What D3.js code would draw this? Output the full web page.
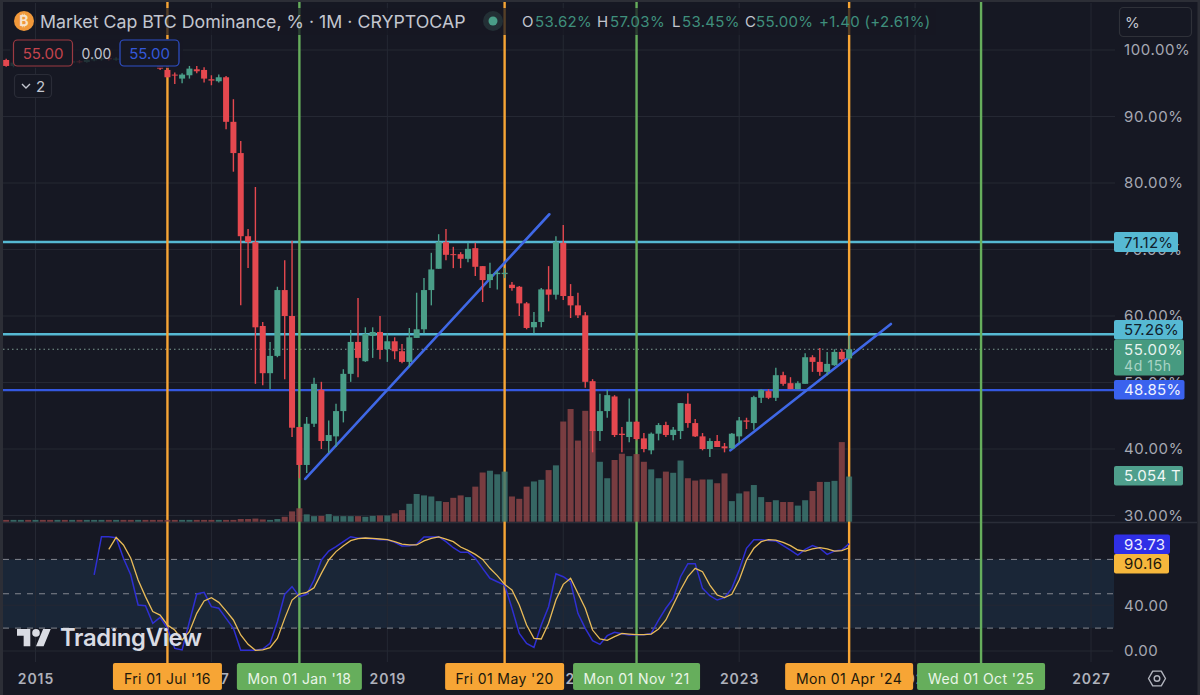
<!DOCTYPE html>
<html><head><meta charset="utf-8">
<script src="https://cdn.jsdelivr.net/npm/d3@7/dist/d3.min.js"></script>
<style>html,body{margin:0;padding:0;background:#161823;overflow:hidden}svg{display:block}text{font-family:Inter,"Noto Sans",sans-serif}</style>
</head><body><div id="c"></div>
<script>
// month offsets counted from Jan 2015; first candle is Sep 2014
const firstMonth = -4;
const opens = [98.5,97.6,98.1,98.4,98.2,98.5,98.3,98.2,98.4,98.1,98.3,98.2,98.5,98.6,98.8,98.6,98.7,98.5,98.3,98.4,98.1,97.8,
97.0,96.3,95.7,96.2,97.1,97.0,95.6,95.3,95.9,89.2,84.5,72.0,71.1,58.5,51.4,54.0,63.9,60.0,43.3,37.6,43.8,48.9,41.2,41.9,45.7,51.3,56.1,53.2,57.0,57.6,55.0,56.2,54.7,53.1,56.7,58.0,63.9,67.1,71.1,69.3,69.3,68.6,70.2,67.5,65.4,66.3,66.3,64.7,64.4,61.9,58.3,59.1,64.0,63.2,71.0,63.0,61.6,60.1,50.2,42.7,45.7,47.9,42.3,41.8,44.1,41.6,39.8,42.3,43.6,42.1,42.7,46.8,43.9,41.9,40.0,41.2,40.4,40.1,41.9,44.3,43.9,47.7,48.7,47.7,51.1,49.9,49.0,49.8,53.8,53.1,51.6,52.6,54.6,53.62];
const highs = [98.7,98.4,98.6,98.7,98.8,98.7,98.6,98.7,98.6,98.5,98.5,98.7,98.9,99.0,99.0,98.9,98.9,98.7,98.6,98.6,98.4,98.0,
97.6,96.6,96.5,97.6,97.6,97.4,96.2,96.3,96.1,92.6,86.3,73.1,79.4,59.1,56.1,64.4,68.4,71.3,43.3,44.8,50.7,50.1,44.3,46.8,52.0,57.9,62.7,58.3,58.3,60.0,57.4,56.8,55.8,58.2,63.5,65.7,69.5,72.3,73.1,70.4,69.6,71.0,71.0,67.5,68.0,66.8,67.2,65.1,64.5,62.1,60.6,64.2,67.5,72.0,73.7,64.8,63.5,60.6,50.5,48.3,48.9,48.1,43.3,47.6,44.2,42.4,42.5,43.9,44.1,43.3,46.9,48.4,44.5,42.4,41.6,42.1,40.9,42.4,44.8,44.7,48.0,49.0,49.0,52.2,51.6,50.8,50.2,54.4,54.1,55.2,54.6,55.0,55.0,57.03];
const lows = [97.5,97.4,98.0,98.0,98.1,98.1,98.0,98.0,97.9,98.0,98.0,98.1,98.3,98.4,98.4,98.4,98.3,98.1,98.1,97.9,97.6,97.0,
95.9,94.9,95.0,95.7,96.5,95.1,94.7,95.1,88.1,81.7,61.6,67.2,49.8,49.6,49.0,53.8,50.5,41.8,35.6,36.4,43.3,40.0,39.4,40.3,44.0,50.1,50.8,53.1,53.7,53.5,53.1,53.5,52.9,52.3,56.7,57.4,61.6,67.1,68.4,67.2,67.2,68.1,66.0,62.1,64.2,64.0,65.7,63.8,60.0,58.0,57.4,58.3,60.7,62.5,62.4,59.7,59.7,49.2,39.5,41.2,44.7,41.8,39.5,41.0,41.3,39.5,39.2,41.3,41.8,41.3,41.5,43.2,41.8,39.8,38.8,40.3,39.5,40.0,40.9,43.0,42.9,46.9,47.5,47.2,49.5,49.0,49.0,49.8,51.6,51.0,51.1,52.5,53.1,53.45];
const closes = [97.6,98.1,98.4,98.2,98.5,98.3,98.2,98.4,98.1,98.3,98.2,98.5,98.6,98.8,98.6,98.7,98.5,98.3,98.4,98.1,97.8,97.2,
95.9,96.2,96.3,97.2,96.8,95.7,95.4,95.9,89.2,84.5,72.0,71.1,58.3,51.4,54.0,63.9,60.0,43.2,37.6,43.8,49.8,41.2,42.1,45.7,51.3,56.1,53.7,57.3,57.6,54.9,56.2,54.7,53.1,56.8,58.0,63.9,67.0,71.1,69.2,69.2,68.6,70.1,67.4,65.4,66.3,66.5,66.5,64.2,61.9,58.2,59.1,64.0,63.2,71.1,63.0,61.6,60.1,50.1,42.7,45.7,48.1,42.1,42.1,44.1,41.5,40.0,42.3,43.6,42.1,42.9,46.9,43.9,41.9,40.0,41.2,40.3,40.1,42.3,44.3,44.1,47.8,48.9,47.7,51.1,49.8,49.0,49.9,53.8,53.1,51.6,52.8,54.6,53.5,55.0];
const volumes = [0.2,0.2,0.2,0.2,0.2,0.2,0.2,0.2,0.2,0.2,0.2,0.2,0.2,0.2,0.2,0.2,0.2,0.2,0.2,0.2,0.2,0.2,
0.2,0.2,0.2,0.2,0.2,0.2,0.2,0.2,0.2,0.2,0.3,0.3,0.35,0.25,0.2,0.3,0.55,1.15,1.5,0.82,0.62,0.65,0.85,0.62,0.62,0.62,0.62,0.55,0.65,0.7,0.7,0.93,1.3,2.0,3.1,2.94,2.82,2.3,2.2,2.67,2.94,2.75,3.92,5.5,5.7,5.3,5.6,2.82,2.56,3.92,4.5,4.68,5.77,6.3,11.2,12.6,9.07,12.4,10.3,6.7,4.86,6.9,7.6,7.33,7.56,6.7,5.85,4.86,5.6,5.47,6.84,4.86,4.6,4.72,4.72,4.3,5.4,2.3,3.16,3.39,4.1,2.75,2.2,2.4,2.2,2.2,1.8,2.4,3.43,4.45,4.45,4.57,8.9,5.05];
const kFirstMonth = 8;
const kValues = [66.4,99.8,99.8,99,81,66.4,40.2,39.6,24.2,29.4,19.8,2.3,0.9,25.6,49.8,51.2,38.7,37.3,28.5,19.8,0.6,0.6,0.6,1.7,6.7,25.6,49.5,56.2,47.5,49.5,62,79.5,87.3,91.1,95.5,99.8,98.4,98.4,97.8,97.2,97.2,94.9,91.7,92,93.2,99.6,99.6,99.8,95.5,90.2,86.2,86.2,81,72.2,63.5,60.5,57.6,37.3,15.4,6.7,3.2,22.7,38.7,67.5,64.9,60.5,32.9,19.8,9,5.8,13.4,16.3,15.1,14,14.3,14.3,15.4,27,37.3,46,64.9,76.3,76.3,54.7,48.3,44.5,46.6,54.7,70.7,89.7,97.2,97.2,96.6,96.1,92,88.2,83.8,88.8,92,89.7,84.4,87.3,88.2,93.73];
const dFirstMonth = 10;
const dValues = [88.8,99.3,92.6,81,62,47.5,34.4,31.4,22.7,18.3,9.6,16.9,32.9,43.7,46.6,42.5,35,27.1,14,5.8,0.6,0.9,2.9,11,28.5,44.5,49.8,51.2,55.3,67.8,79.5,86.8,92,96.4,98.1,98.7,98.4,97.8,97.2,95.5,93.4,92.6,92.6,96.1,98.4,99.6,97.8,95.5,90.8,87.9,84.4,80,72.2,65.8,58.2,53.3,40.2,22.7,11,10.5,24.2,44.5,58.2,63.5,50.4,37.3,18.3,10.5,9.3,12.5,15.4,14.8,14.3,14.3,14.8,19.2,27.1,40.2,53.3,64.9,72.2,69.3,57.6,48.9,46.6,49.5,62,79.5,89.7,95.5,97.2,96.9,94.9,92,88.2,87.3,89.1,90.2,89.1,87.3,87.6,90.16];
const yearTicks = [0,24,48,72,96,120,144];
const yearLabels = ["2015","2017","2019","2021","2023","2025","2027"];
const priceTicks = [100,90,80,70,60,50,40,30];
const stochTicks = [40,0];
const stochBands = [80,50,20];
const levelValues = [71.12,57.26,48.85];
const levelColors = ["#56b9d3","#56b9d3","#3458e0"];
const markMonths = [18,64,111,36,82,129];
const markLabels = ["Fri 01 Jul '16","Fri 01 May '20","Mon 01 Apr '24","Mon 01 Jan '18","Mon 01 Nov '21","Wed 01 Oct '25"];
const markWidths = [109,119,128,125,127,128];
const markColors = ["#f7a535","#f7a535","#f7a535","#66ae5c","#66ae5c","#66ae5c"];
const markText = ["#20180c","#20180c","#20180c","#eaf5e8","#eaf5e8","#eaf5e8"];
const trendMonths = [[36.8,70.1],[94.8,116.7]];
const trendValues = [[35.5,75.3],[39.8,58.8]];

const W=1200,H=695,bg="#161823",grid="#252833",up="#4a9e88",down="#e5484f",axisText="#a6a9b3";
const x=d3.scaleLinear().domain([0,144]).range([35.5,35.5+7.33*144]);
const y=d3.scaleLinear().domain([100,30]).range([50,515.5]);
const yVol=d3.scaleLinear().domain([0,5.054]).range([521.7,476.5]);
const yS=d3.scaleLinear().domain([0,100]).range([651,536.5]);
const months=opens.map((_,i)=>firstMonth+i);

const svg=d3.select("#c").append("svg").attr("width",W).attr("height",H);
svg.append("rect").attr("width",W).attr("height",H).attr("fill",bg);
// frame strips
svg.append("rect").attr("width",3).attr("height",H).attr("fill","#2c2e36");
svg.append("rect").attr("x",1197.5).attr("width",2.5).attr("height",H).attr("fill","#2c2e36");
svg.append("rect").attr("width",W).attr("height",2).attr("fill","#2c2e36");

// stoch band
svg.append("rect").attr("x",3).attr("width",1111).attr("y",yS(80)).attr("height",yS(20)-yS(80)).attr("fill","#1a2637");

// grid
const gridG=svg.append("g").attr("stroke",grid).attr("stroke-width",1);
gridG.selectAll(".v").data(yearTicks).join("line").attr("x1",d=>x(d)).attr("x2",d=>x(d)).attr("y1",3).attr("y2",662);
gridG.selectAll(".h").data(priceTicks).join("line").attr("x1",3).attr("x2",1115).attr("y1",d=>y(d)).attr("y2",d=>y(d));
gridG.selectAll(".s").data(stochTicks).join("line").attr("x1",3).attr("x2",1113).attr("y1",d=>yS(d)).attr("y2",d=>yS(d));
svg.append("line").attr("x1",3).attr("x2",1197).attr("y1",522.5).attr("y2",522.5).attr("stroke","#2a2d38").attr("stroke-width",1.5);
svg.selectAll(".band").data(stochBands).join("line").attr("x1",3).attr("x2",1114).attr("y1",d=>yS(d)).attr("y2",d=>yS(d)).attr("stroke","#83868f").attr("stroke-width",1).attr("stroke-dasharray","6 6");

// axes
function styleAxis(g){g.select(".domain").remove();g.selectAll("line").remove();g.selectAll("text").attr("fill",axisText).attr("font-size",15).attr("letter-spacing",0.6).attr("text-anchor","start");}
svg.append("g").attr("transform","translate(1124,0)").call(d3.axisRight(y).tickValues(priceTicks).tickFormat(d=>d.toFixed(2)+"%").tickSize(0).tickPadding(0)).call(styleAxis);
svg.append("g").attr("transform","translate(1124,0)").call(d3.axisRight(yS).tickValues(stochTicks).tickFormat(d=>d.toFixed(2)).tickSize(0).tickPadding(0)).call(styleAxis);
const yearAxis=svg.append("g").attr("transform","translate(0,674.5)").call(d3.axisBottom(x).tickValues(yearTicks).tickFormat((d,i)=>yearLabels[i]).tickSize(0).tickPadding(0));
yearAxis.select(".domain").remove();
yearAxis.selectAll("text").attr("fill","#aeb1bb").attr("font-size",14).attr("font-weight",600).attr("letter-spacing",1);

// last-price dotted line
svg.append("line").attr("x1",3).attr("x2",1115).attr("y1",y(closes[closes.length-1])).attr("y2",y(closes[closes.length-1])).attr("stroke","#7d9a92").attr("stroke-width",1).attr("stroke-dasharray","1.5 3");

// levels, vertical marks, trend lines (drawn below the series)
svg.selectAll(".lvl").data(levelValues).join("line").attr("x1",3).attr("x2",1115).attr("y1",d=>y(d)).attr("y2",d=>y(d)).attr("stroke",(d,i)=>levelColors[i]).attr("stroke-width",2.4);
svg.selectAll(".mk").data(markMonths).join("line").attr("x1",d=>x(d)).attr("x2",d=>x(d)).attr("y1",2).attr("y2",664).attr("stroke",(d,i)=>markColors[i]).attr("stroke-width",2.4);
svg.selectAll(".tr").data(trendMonths).join("line").attr("x1",d=>x(d[0])).attr("x2",d=>x(d[1])).attr("y1",(d,i)=>y(trendValues[i][0])).attr("y2",(d,i)=>y(trendValues[i][1])).attr("stroke","#3f68e6").attr("stroke-width",2.6).attr("stroke-linecap","round");

// volume
svg.selectAll(".vol").data(months).join("rect").attr("x",d=>x(d)-3).attr("width",6)
 .attr("y",(d,i)=>yVol(volumes[i])).attr("height",(d,i)=>yVol(0)-yVol(volumes[i]))
 .attr("fill",(d,i)=>closes[i]>=opens[i]?"#3c7670":"#8a4345").attr("opacity",0.85);

// candles
const isUp=i=>closes[i]>=opens[i];
svg.selectAll(".wick").data(months).join("line").attr("x1",d=>x(d)).attr("x2",d=>x(d))
 .attr("y1",(d,i)=>y(highs[i])).attr("y2",(d,i)=>y(lows[i])).attr("stroke",(d,i)=>isUp(i)?up:down).attr("stroke-width",1.4);
svg.selectAll(".body").data(months).join("rect").attr("x",d=>x(d)-3).attr("width",6)
 .attr("y",(d,i)=>y(Math.max(opens[i],closes[i])))
 .attr("height",(d,i)=>Math.max(1,Math.abs(y(opens[i])-y(closes[i])))).attr("fill",(d,i)=>isUp(i)?up:down);

// stoch lines
const ln=d3.line().x(d=>x(d[0])).y(d=>yS(d[1]));
svg.append("path").attr("d",ln(kValues.map((v,i)=>[kFirstMonth+i,v]))).attr("fill","none").attr("stroke","#2f2fd2").attr("stroke-width",1.5);
svg.append("path").attr("d",ln(dValues.map((v,i)=>[dFirstMonth+i,v]))).attr("fill","none").attr("stroke","#e9bb58").attr("stroke-width",1.3);

// watermark logo
const logo=svg.append("g").attr("transform","translate(17,625.3) scale(0.95)").attr("fill","#d9dbe3");
logo.append("path").attr("d","M14 22H7V11H0V4h14v18zM28 22h-8l7.5-18h8L28 22z");
logo.append("circle").attr("cx",20).attr("cy",8).attr("r",4);
svg.append("text").attr("x",60).attr("y",646).attr("font-size",23.8).attr("font-weight",600).attr("fill","#d9dbe3").attr("letter-spacing",-0.3).text("TradingView");

// date marks
const mg=svg.selectAll(".dm").data(markMonths).join("g");
mg.append("rect").attr("x",(d,i)=>x(d)-markWidths[i]/2).attr("y",663).attr("width",(d,i)=>markWidths[i]).attr("height",27).attr("rx",2).attr("fill",(d,i)=>markColors[i]);
mg.append("text").attr("x",d=>x(d)).attr("y",684).attr("text-anchor","middle").attr("font-size",14).attr("letter-spacing",0.4).attr("fill",(d,i)=>markText[i]).text((d,i)=>markLabels[i]);

// header overlays
svg.append("rect").attr("x",36).attr("y",8).attr("width",900).attr("height",27).attr("fill",bg).attr("opacity",0.72);
svg.append("rect").attr("x",10).attr("y",39).attr("width",173).attr("height",29).attr("fill",bg).attr("opacity",0.8);
svg.append("circle").attr("cx",24).attr("cy",21).attr("r",10).attr("fill","#f0983a");
svg.append("text").attr("x",24).attr("y",26).attr("text-anchor","middle").attr("font-size",14).attr("font-weight",700).attr("fill","#f6e3cc").attr("font-family","DejaVu Sans").text("₿");
svg.append("text").attr("x",40).attr("y",28).attr("font-size",17.75).attr("fill","#c3c6cf").text("Market Cap BTC Dominance, % · 1M · CRYPTOCAP");
svg.append("circle").attr("cx",493).attr("cy",21).attr("r",10).attr("fill","#232f35");
svg.append("circle").attr("cx",493).attr("cy",21).attr("r",4.5).attr("fill","#4a9e88");
const teal="#3f8f7c",lbl="#c3c6cf";
const ohlc=[["O",522,lbl],["53.62%",535,teal],["H",597,lbl],["57.03%",610,teal],["L",672,lbl],["53.45%",682,teal],["C",745,lbl],["55.00%",756,teal],["+1.40 (+2.61%)",819,teal]];
svg.selectAll(".oh").data(ohlc).join("text").attr("x",d=>d[1]).attr("y",27).attr("font-size",15).attr("letter-spacing",0.3).attr("fill",d=>d[2]).text(d=>d[0]);

function box(x0,y0,w,h,stroke,txt,col,fs){
 svg.append("rect").attr("x",x0).attr("y",y0).attr("width",w).attr("height",h).attr("rx",4).attr("fill",bg).attr("stroke",stroke).attr("stroke-width",1.2);
 if(txt) svg.append("text").attr("x",x0+w/2).attr("y",y0+h/2+5.5).attr("text-anchor","middle").attr("font-size",fs||15).attr("fill",col).text(txt);
}
box(13.5,40,59,26,"#9c3a42","55.00","#c4444d");
svg.append("text").attr("x",96.5).attr("y",59).attr("text-anchor","middle").attr("font-size",14).attr("fill","#c3c6cf").text("0.00");
box(120,40,59,26,"#2f50c8","55.00","#3458d8");
box(14.5,74.5,37,23,"#2a2c37");
svg.append("path").attr("d","M22 84l4 4 4-4").attr("fill","none").attr("stroke","#c3c6cf").attr("stroke-width",1.4);
svg.append("text").attr("x",36).attr("y",92).attr("font-size",15).attr("fill","#c3c6cf").text("2");
box(1119.5,7.5,72,29,"#2f3139");
svg.append("text").attr("x",1125).attr("y",27.5).attr("font-size",15).attr("fill","#c3c6cf").text("%");

// right-hand labels
function pill(x0,y0,w,h,fill,txt,col){
 svg.append("rect").attr("x",x0).attr("y",y0).attr("width",w).attr("height",h).attr("rx",2).attr("fill",fill);
 svg.append("text").attr("x",1124).attr("y",y0+h/2+5.5).attr("font-size",15).attr("letter-spacing",0.3).attr("fill",col).text(txt);
}
pill(1114,232,64,20,levelColors[0],levelValues[0].toFixed(2)+"%","#10202c");
pill(1114,320,69,19.5,levelColors[1],levelValues[1].toFixed(2)+"%","#10202c");
svg.append("rect").attr("x",1114).attr("y",339.5).attr("width",70).attr("height",36).attr("rx",2).attr("fill","#469a80");
svg.append("text").attr("x",1124).attr("y",354.5).attr("font-size",15).attr("letter-spacing",0.6).attr("fill","#e6f3ef").text("55.00%");
svg.append("text").attr("x",1124).attr("y",371).attr("font-size",14).attr("letter-spacing",0.6).attr("fill","#a9d4c6").text("4d 15h");
pill(1114,380,70.5,19.5,"#3a62ee",levelValues[2].toFixed(2)+"%","#f0f3ff");
pill(1114,466,69,19.5,"#4f9f8c","5.054 T","#eef7f4");
pill(1114,534.5,56,19.5,"#2f2fe6",kValues[kValues.length-1].toFixed(2),"#eeeeff");
pill(1114,554,55,19.5,"#f6b73c",dValues[dValues.length-1].toFixed(2),"#20180c");

// settings icon
const cx=1157,cy=678.5,r=8.5;
svg.append("path").attr("d",d3.line()(d3.range(6).map(k=>[cx+r*Math.cos(k*Math.PI/3),cy+r*Math.sin(k*Math.PI/3)]))+"Z").attr("fill","none").attr("stroke","#b2b5be").attr("stroke-width",1.4).attr("stroke-linejoin","round");
svg.append("circle").attr("cx",cx).attr("cy",cy).attr("r",2.8).attr("fill","none").attr("stroke","#b2b5be").attr("stroke-width",1.4);
</script></body></html>
